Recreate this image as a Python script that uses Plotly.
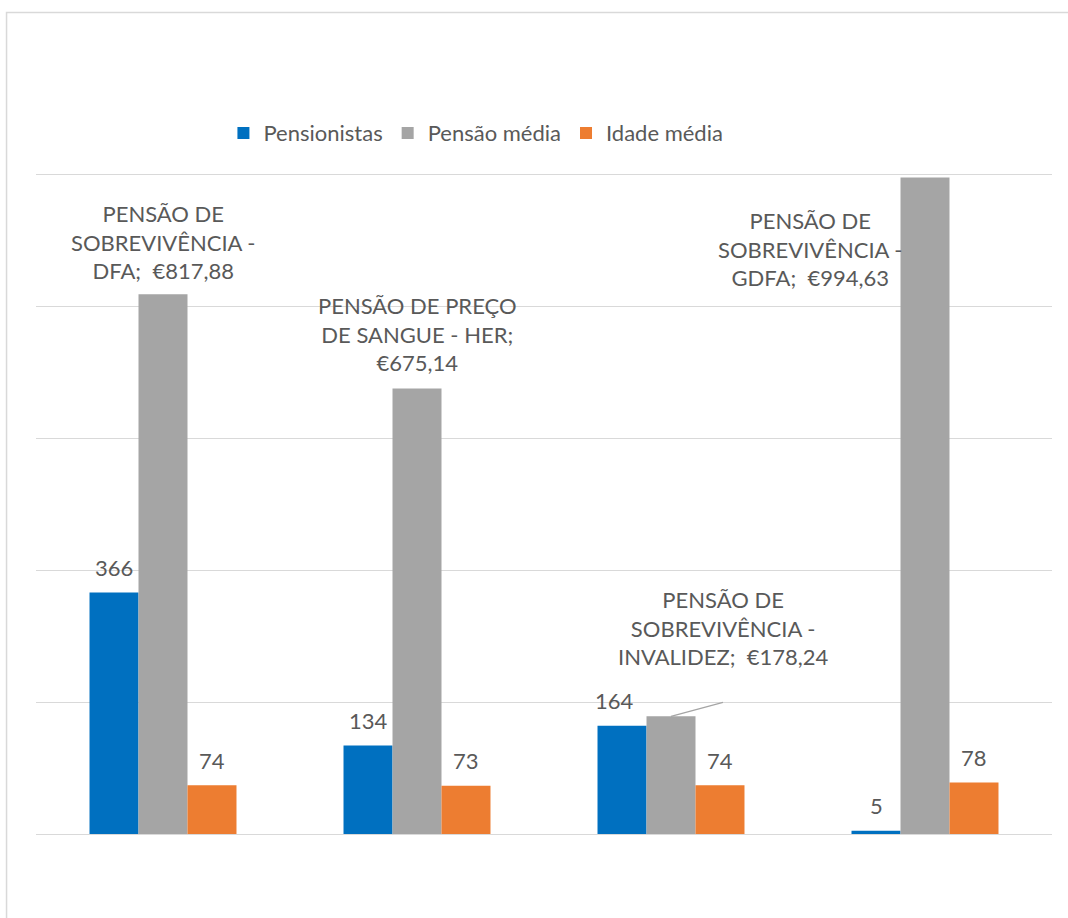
import plotly.graph_objects as go

categories = [
    "PENSÃO DE SOBREVIVÊNCIA - DFA",
    "PENSÃO DE PREÇO DE SANGUE - HER",
    "PENSÃO DE SOBREVIVÊNCIA - INVALIDEZ",
    "PENSÃO DE SOBREVIVÊNCIA - GDFA",
]
pensionistas = [366, 134, 164, 5]
pensao_media = [817.88, 675.14, 178.24, 994.63]
idade_media = [74, 73, 74, 78]

# label line breaks as shown in the chart
gray_label_lines = [
    ["PENSÃO DE", "SOBREVIVÊNCIA -", "DFA;"],
    ["PENSÃO DE PREÇO", "DE SANGUE - HER;", ""],
    ["PENSÃO DE", "SOBREVIVÊNCIA -", "INVALIDEZ;"],
    ["PENSÃO DE", "SOBREVIVÊNCIA -", "GDFA;"],
]

BLUE = "#0070C0"
GRAY = "#A5A5A5"
ORANGE = "#ED7D31"
TXT = "#595959"
GRID = "#D9D9D9"
FONT = "Lato"
FS = 22
BW = 49  # bar width in px (for label offsets)


def euro(v):
    return "€" + f"{v:.2f}".replace(".", ",")


fig = go.Figure()
for name, vals, col in [
    ("Pensionistas", pensionistas, BLUE),
    ("Pensão média", pensao_media, GRAY),
    ("Idade média", idade_media, ORANGE),
]:
    fig.add_trace(go.Bar(x=categories, y=vals, name=name,
                         marker=dict(color=col, line=dict(width=0)),
                         hoverinfo="skip"))

ann = []
for c, v in zip(categories, pensionistas):
    ann.append(dict(x=c, y=v, xref="x", yref="y", text=str(v), showarrow=False,
                    xshift=-BW, yshift=25, yanchor="middle",
                    font=dict(family=FONT, size=FS, color=TXT)))
for c, v in zip(categories, idade_media):
    ann.append(dict(x=c, y=v, xref="x", yref="y", text=str(v), showarrow=False,
                    xshift=BW, yshift=25, yanchor="middle",
                    font=dict(family=FONT, size=FS, color=TXT)))
# adjust the 164 label slightly as in the reference
ann[2]["xshift"] = -BW - 8

gray_shifts = [(0, 52), (0, 54), (52, 88), (-115, -71)]
for c, v, lines, (xs, ys) in zip(categories, pensao_media, gray_label_lines, gray_shifts):
    if lines[2]:
        txt = lines[0] + "<br>" + lines[1] + "<br>" + lines[2] + "  " + euro(v)
    else:
        txt = lines[0] + "<br>" + lines[1] + "<br>" + euro(v)
    ann.append(dict(x=c, y=v, xref="x", yref="y", text=txt, showarrow=False,
                    xshift=xs, yshift=ys, yanchor="middle", align="center",
                    font=dict(family=FONT, size=FS, color=TXT)))

shapes = [
    # leader line for the third gray label
    dict(type="line", xref="x", yref="y", xsizemode="pixel", ysizemode="pixel",
         xanchor=categories[2], yanchor=pensao_media[2],
         x0=0, y0=0, x1=52, y1=14, line=dict(color=GRAY, width=1.3)),
    # outer chart frame (cropped on right/bottom)
    dict(type="rect", xref="paper", yref="paper",
         x0=-0.029, x1=1.2, y0=-0.3, y1=1.0373,
         line=dict(color=GRID, width=1.5), fillcolor="rgba(0,0,0,0)", layer="below"),
]

fig.update_layout(
    width=1068, height=918,
    margin=dict(l=36, r=16, t=42, b=84),
    paper_bgcolor="white", plot_bgcolor="white",
    barmode="group", bargap=0.4213, bargroupgap=0,
    showlegend=True,
    legend=dict(orientation="h", x=0.433, xanchor="center", y=0.885, yanchor="middle",
                font=dict(family=FONT, size=FS, color=TXT), traceorder="normal"),
    xaxis=dict(showticklabels=False, showgrid=False, zeroline=False, showline=False,
               ticks=""),
    yaxis=dict(range=[0, 1200], dtick=200, showticklabels=False, showgrid=True,
               gridcolor=GRID, gridwidth=1.3, zeroline=True, zerolinecolor=GRID,
               zerolinewidth=1.3, ticks="", showline=False),
    annotations=ann,
    shapes=shapes,
    font=dict(family=FONT, color=TXT),
)

fig.write_html("out.html")
